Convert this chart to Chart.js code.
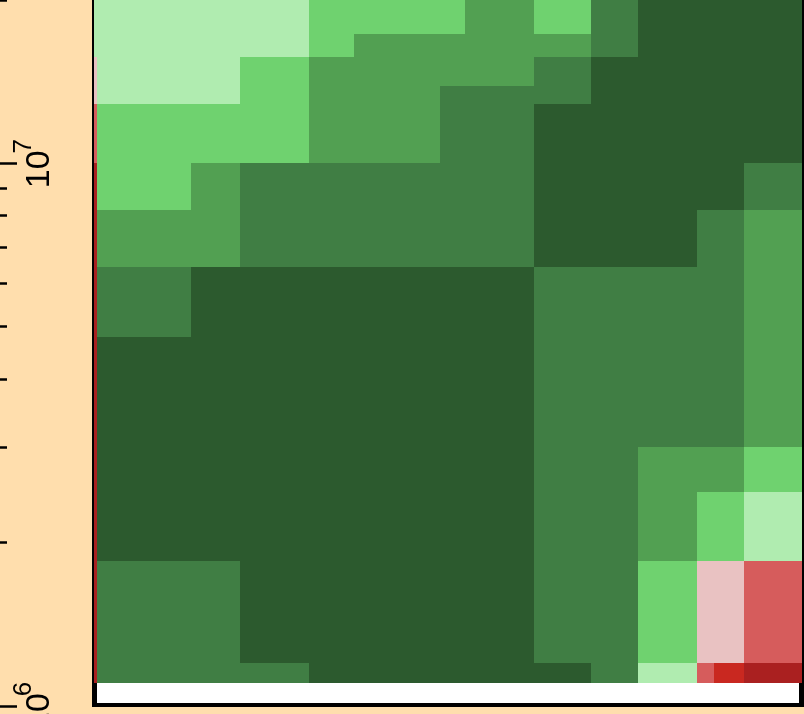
<!DOCTYPE html>
<html><head><meta charset="utf-8">
<script src="https://cdn.jsdelivr.net/npm/chart.js@4/dist/chart.umd.min.js"></script>
<style>html,body{margin:0;padding:0;background:#ffdead;overflow:hidden}canvas{display:block}</style>
</head><body>
<canvas id="c" width="804" height="714"></canvas>
<script>
// column edges (unlabelled x axis, arbitrary units, left to right)
const xEdges = [0, 4, 98, 147, 216, 261, 347, 372, 441, 498, 545, 604, 621, 651, 709];
// row edges (y values, top to bottom)
const yEdges = [2.0e7, 1.7313e7, 1.5703e7, 1.3885e7, 1.2864e7, 1.0015e7, 8.2041e6, 6.4416e6,
                4.7863e6, 3.0011e6, 2.4795e6, 1.8501e6, 1.2002e6, 1.1025e6];
// colour levels
const levelColors = ['#aa2020', '#c92820', '#d65c5c', '#e9c2c2', '#b0ecb0', '#6fd26f', '#52a052', '#407e44', '#2c5a2e'];
// y axis ticks and labels
const yTickValues = [1e6, 2e6, 3e6, 4e6, 5e6, 6e6, 7e6, 8e6, 9e6, 1e7, 2e7];
const yMajorTicks = [1e6, 1e7];
const yMajorBase = ['10', '10'];
const yMajorExp = ['6', '7'];
// cell levels, one row per y band (top to bottom), one entry per x column
const cellLevels = [
  [4, 4, 4, 4, 5, 5, 5, 6, 5, 7, 8, 8, 8, 8],
  [4, 4, 4, 4, 5, 6, 6, 6, 6, 7, 8, 8, 8, 8],
  [3, 4, 4, 5, 6, 6, 6, 6, 7, 8, 8, 8, 8, 8],
  [3, 4, 4, 5, 6, 6, 7, 7, 7, 8, 8, 8, 8, 8],
  [2, 5, 5, 5, 6, 6, 7, 7, 8, 8, 8, 8, 8, 8],
  [0, 5, 6, 7, 7, 7, 7, 7, 8, 8, 8, 8, 8, 7],
  [0, 6, 6, 7, 7, 7, 7, 7, 8, 8, 8, 7, 7, 6],
  [0, 7, 8, 8, 8, 8, 8, 8, 7, 7, 7, 7, 7, 6],
  [0, 8, 8, 8, 8, 8, 8, 8, 7, 7, 7, 7, 7, 6],
  [0, 8, 8, 8, 8, 8, 8, 8, 7, 7, 6, 6, 6, 5],
  [0, 8, 8, 8, 8, 8, 8, 8, 7, 7, 6, 5, 5, 4],
  [0, 7, 7, 8, 8, 8, 8, 8, 7, 7, 5, 3, 3, 2],
  [0, 7, 7, 7, 8, 8, 8, 8, 8, 7, 4, 2, 1, 0]
];

// one filled band per run of equal cells in a row
const datasets = [];
cellLevels.forEach((row, r) => {
  let c = 0;
  while (c < row.length) {
    let e = c;
    while (e + 1 < row.length && row[e + 1] === row[c]) e++;
    datasets.push({
      yAxisID: 'y',
      data: [{x: xEdges[c], y: yEdges[r]}, {x: xEdges[e + 1], y: yEdges[r]}],
      fill: {value: yEdges[r + 1]},
      backgroundColor: levelColors[row[c]],
      borderColor: 'rgba(0,0,0,0)',
      borderWidth: 0,
      pointRadius: 0,
      tension: 0
    });
    c = e + 1;
  }
});

const majorIndex = v => yMajorTicks.findIndex(t => Math.abs(t - v) < 1);
const setTicks = a => { a.ticks = yTickValues.map(v => ({value: v})); };

const framePlugin = {
  id: 'frame',
  beforeDraw(chart) {
    const {ctx, chartArea: a, width} = chart;
    ctx.save();
    ctx.fillStyle = '#000';
    ctx.fillRect(a.left - 1, a.top, width - a.left + 1, a.bottom + 1 - a.top);
    ctx.fillStyle = '#fff';
    ctx.fillRect(a.left + 4, a.top, (a.right - 3) - (a.left + 4), (a.bottom - 3) - a.top);
    ctx.restore();
  }
};

const font = '"Liberation Sans", Arial, sans-serif';

new Chart(document.getElementById('c'), {
  type: 'line',
  data: {datasets},
  options: {
    responsive: false,
    animation: false,
    devicePixelRatio: 1,
    events: [],
    layout: {padding: {left: 0, right: 2, top: 0, bottom: 8}},
    plugins: {legend: {display: false}, tooltip: {enabled: false}},
    scales: {
      x: {type: 'linear', min: 0, max: 709, display: false},
      y: {
        type: 'logarithmic', min: 1e6, max: 2e7, position: 'left', weight: 0,
        afterBuildTicks: setTicks,
        afterFit: a => { a.width = 93; a.paddingTop = 0; a.paddingBottom = 0; },
        border: {display: true, color: '#000', width: 2, z: 1},
        grid: {
          display: true, drawOnChartArea: false, drawTicks: true,
          tickLength: 93, tickColor: '#000', tickWidth: 2.5,
          tickBorderDash: c => majorIndex(c.tick.value) >= 0 ? [17, 400] : [7, 400]
        },
        ticks: {
          autoSkip: false, minRotation: 90, maxRotation: 90, crossAlign: 'center',
          padding: -59, labelOffset: 6, color: '#000',
          font: {family: font, size: 34},
          callback: v => { const i = majorIndex(v); return i >= 0 ? yMajorBase[i] : ''; }
        }
      },
      yExp: {
        type: 'logarithmic', axis: 'y', min: 1e6, max: 2e7, position: 'left', weight: 1,
        afterBuildTicks: setTicks,
        afterFit: a => { a.width = 0; a.paddingTop = 0; a.paddingBottom = 0; },
        border: {display: false},
        grid: {display: false},
        ticks: {
          autoSkip: false, minRotation: 90, maxRotation: 90, crossAlign: 'center', mirror: true,
          padding: 17, labelOffset: -17, color: '#000',
          font: {family: font, size: 26},
          callback: v => { const i = majorIndex(v); return i >= 0 ? yMajorExp[i] : ''; }
        }
      }
    }
  },
  plugins: [framePlugin]
});
</script>
</body></html>
